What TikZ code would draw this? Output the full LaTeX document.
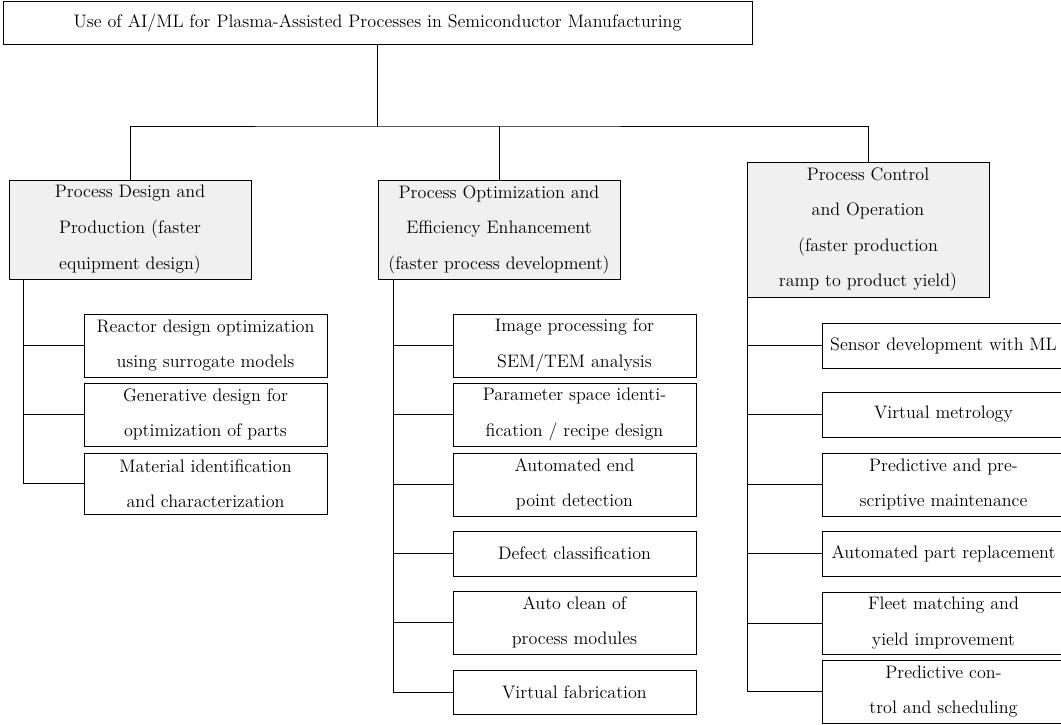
\documentclass[tikz,border=0pt]{standalone}
\begin{document}
\begin{tikzpicture}[x=0.625pt,y=-0.625pt,
  line width=0.6pt,
  basebox/.style 2 args={draw=black, inner sep=0pt, align=center,
     minimum width=#1*0.625pt, minimum height=#2*0.625pt,
     font=\fontsize{11.3}{22.2}\selectfont},
  leaf/.style 2 args={basebox={#1}{#2}},
  cat/.style 2 args={basebox={#1}{#2}, fill=black!6},
  conn/.style={draw=black, line width=0.6pt}]
\useasboundingbox (0,0) rectangle (1061,725);
\clip (0,0) rectangle (1061,725);

% root
\node[basebox={749}{43}] (root) at (377.5,22.5) {Use of AI/ML for Plasma-Assisted Processes in Semiconductor Manufacturing};

% categories
\node[cat={242}{99}] (b1) at (130,229.5) {Process Design and\\Production (faster\\equipment design)};
\node[cat={242}{99}] (b2) at (499,229.5) {Process Optimization and\\Efficiency Enhancement\\(faster process development)};
\node[cat={242}{135}] (b3) at (868,229.5) {Process Control\\and Operation\\(faster production\\ramp to product yield)};

% column 1
\node[leaf={243}{63}] (c1) at (205.5,345.5) {Reactor design optimization\\using surrogate models};
\node[leaf={243}{63}] (c2) at (205.5,414.5) {Generative design for\\optimization of parts};
\node[leaf={243}{61}] (c3) at (205.5,483.5) {Material identification\\and characterization};

% column 2
\node[leaf={243}{63}] (d1) at (574.5,345.5) {Image processing for\\SEM/TEM analysis};
\node[leaf={243}{63}] (d2) at (574.5,414.5) {Parameter space identi-\\fication / recipe design};
\node[leaf={243}{63}] (d3) at (574.5,484.5) {Automated end\\point detection};
\node[leaf={243}{45}] (d4) at (574.5,553.5) {Defect classification};
\node[leaf={243}{63}] (d5) at (574.5,622.5) {Auto clean of\\process modules};
\node[leaf={243}{44}] (d6) at (574.5,692) {Virtual fabrication};

% column 3
\node[leaf={243}{45}] (e1) at (943.5,345.5) {Sensor development with ML};
\node[leaf={243}{45}] (e2) at (943.5,414.5) {Virtual metrology};
\node[leaf={243}{63}] (e3) at (943.5,484.5) {Predictive and pre-\\scriptive maintenance};
\node[leaf={243}{45}] (e4) at (943.5,553.5) {Automated part replacement};
\node[leaf={243}{62}] (e5) at (943.5,623) {Fleet matching and\\yield improvement};
\node[leaf={243}{63}] (e6) at (943.5,691.5) {Predictive con-\\trol and scheduling};

% top connectors
\coordinate (j) at (377.5,126);
\draw[conn] (root.south) -- (j);
\draw[conn] (b1.north) |- (j) -| (b3.north);
\draw[conn] (b2.north) -- (b2.north |- j);

% trunks
\coordinate (t1) at (23,279);
\coordinate (t2) at (393,279);
\coordinate (t3) at (747,297);
\draw[conn] (t1) |- (c3.west);
\draw[conn] (c1.west) -- (c1.west -| t1);
\draw[conn] (c2.west) -- (c2.west -| t1);

\draw[conn] (t2) |- (d6.west);
\foreach \n in {d1,d2,d3,d4,d5} \draw[conn] (\n.west) -- (\n.west -| t2);

\draw[conn] (t3) |- (e6.west);
\foreach \n in {e1,e2,e3,e4,e5} \draw[conn] (\n.west) -- (\n.west -| t3);
\end{tikzpicture}
\end{document}
